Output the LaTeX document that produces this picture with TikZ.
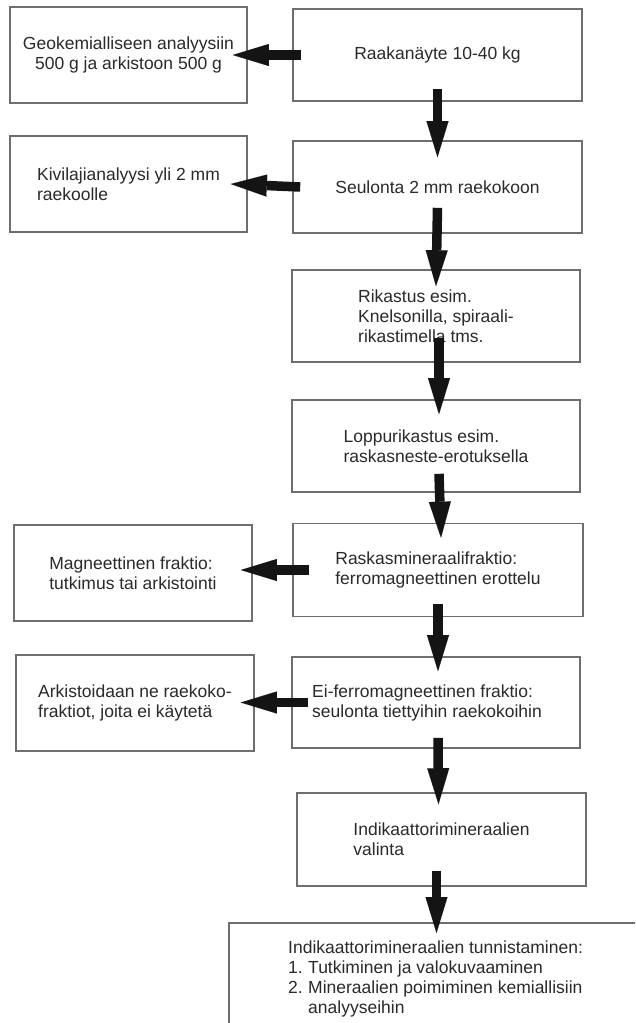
\documentclass[tikz,border=0pt]{standalone}
\usepackage{fontspec}
\setmainfont{Liberation Sans}
\usetikzlibrary{arrows.meta}
\definecolor{boxline}{HTML}{6E6E6E}
\definecolor{txt}{HTML}{2A2A2A}
\definecolor{arr}{HTML}{141414}
\begin{document}
\begin{tikzpicture}[x=1pt,y=-1pt,
  box/.style={draw=boxline, line width=1.6pt, inner sep=0pt, text=txt,
    font=\fontsize{17.5}{20}\selectfont, align=left},
  rbox/.style={box, minimum width=289pt, minimum height=92pt},
  lbox/.style={box, minimum width=237pt, minimum height=96pt},
  bigarrow/.style={draw=arr, line width=9.5pt,
    -{Triangle[length=36pt,width=22pt,line width=0.01pt,fill=arr]}}
]
\useasboundingbox (0,0) rectangle (635,1023);
\clip (0,0) rectangle (635,1023);
\fill[white] (0,0) rectangle (635,1023);

% right column
\node[rbox] (r1) at (437.5,55) {Raakanäyte 10-40 kg};
\node[rbox] (r2) at (437.5,187) {Seulonta 2 mm raekokoon};
\node[rbox, minimum width=288pt] (r3) at (436,316) {Rikastus esim.\\Knelsonilla, spiraali-\\rikastimella tms.};
\node[rbox, minimum width=288pt] (r4) at (436,446) {Loppurikastus esim.\\raskasneste-erotuksella};
\node[rbox, minimum width=290pt, minimum height=93pt] (r5) at (438,570) {Raskasmineraalifraktio:\\ferromagneettinen erottelu};
\node[rbox, minimum width=288pt, minimum height=91pt] (r6) at (436,702.5) {Ei-ferromagneettinen fraktio:\\seulonta tiettyihin raekokoihin\hspace*{18pt}};
\node[rbox, minimum height=93pt] (r7) at (441.5,839.5) {Indikaattorimineraalien\\valinta};
\node[box, anchor=north west, minimum width=430pt, minimum height=130pt] (r8) at (228,922) {};
\node[anchor=north west, inner sep=0pt, text=txt, font=\fontsize{17.5}{20}\selectfont, align=left] (t8) at (288,941)
  {Indikaattorimineraalien tunnistaminen:\\
   \makebox[20pt][l]{1.}Tutkiminen ja valokuvaaminen\\
   \makebox[20pt][l]{2.}Mineraalien poimiminen kemiallisiin\\
   \hspace*{20pt}analyyseihin};

% left column
\node[lbox, align=center] (l1) at (128.5,55) {Geokemialliseen analyysiin\\500 g ja arkistoon 500 g};
\node[lbox] (l2) at (128.5,184) {Kivilajianalyysi yli 2 mm\\raekoolle};
\node[lbox, minimum width=238pt] (l5) at (133,573) {Magneettinen fraktio:\\tutkimus tai arkistointi};
\node[lbox, minimum width=238pt] (l6) at (135,703) {Arkistoidaan ne raekoko-\\fraktiot, joita ei käytetä};

% down arrows
\draw[bigarrow] ([yshift=13pt]r1.south) -- ([yshift=-17pt]r2.north);
\draw[bigarrow] ([yshift=26pt]r2.south) -- ([yshift=-17pt]r3.north);
\draw[bigarrow] ([yshift=25pt,xshift=3pt]r3.south) -- ([yshift=-15pt,xshift=3pt]r4.north);
\draw[bigarrow] ([yshift=19pt,xshift=3pt]r4.south) -- ([yshift=-15pt,xshift=3pt]r5.north);
\draw[bigarrow] ([yshift=13pt]r5.south) -- ([yshift=-15pt,xshift=2pt]r6.north);
\draw[bigarrow] ([yshift=11pt,xshift=2pt]r6.south) -- ([yshift=-12pt,xshift=-3pt]r7.north);
\draw[bigarrow] ([yshift=16pt,xshift=-5pt]r7.south) -- ([yshift=-11pt,xshift=-5pt]r7.south |- r8.north);

% left arrows
\draw[bigarrow] ([xshift=9pt]r1.west) -- ([xshift=-15pt]l1.east);
\draw[bigarrow] ([xshift=8pt]r2.west) -- ([xshift=-17pt]l2.east);
\draw[bigarrow] ([xshift=17pt]r5.west) -- ([xshift=-12pt]l5.east |- r5.west);
\draw[bigarrow] ([xshift=17pt]r6.west) -- ([xshift=-14pt]l6.east |- r6.west);
\end{tikzpicture}
\end{document}
